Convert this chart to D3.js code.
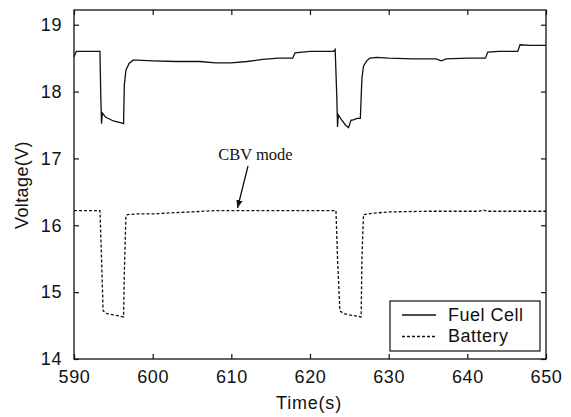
<!DOCTYPE html>
<html><head><meta charset="utf-8">
<script src="https://cdn.jsdelivr.net/npm/d3@7"></script>
<style>body{margin:0;background:#fff;}svg{display:block;}</style>
</head><body>
<svg id="c" width="571" height="417"></svg>
<script>
const xTicks = [590, 600, 610, 620, 630, 640, 650];
const yTicks = [14, 15, 16, 17, 18, 19];
const seriesNames = ["Fuel Cell", "Battery"];
const fcTime = [590, 590.3, 593.3, 593.4, 593.5, 593.6, 594, 595, 596, 596.3, 596.4, 596.6, 597, 597.5, 598, 600, 603, 606, 608, 610, 612, 614, 616, 617.8, 618.1, 620, 623, 623.2, 623.4, 623.5, 623.6, 624, 624.5, 624.9, 625.2, 625.6, 626, 626.4, 626.6, 626.8, 627.2, 627.6, 628.5, 630, 633, 636, 636.7, 637.3, 640, 642.3, 642.6, 644, 646.4, 646.7, 648, 650];
const fcVolt = [18.52, 18.6, 18.6, 17.95, 17.52, 17.68, 17.62, 17.56, 17.53, 17.52, 18.1, 18.32, 18.42, 18.47, 18.47, 18.46, 18.45, 18.45, 18.43, 18.43, 18.45, 18.48, 18.5, 18.5, 18.58, 18.6, 18.6, 18.63, 17.95, 17.47, 17.65, 17.58, 17.5, 17.46, 17.57, 17.58, 17.6, 17.6, 18.2, 18.38, 18.46, 18.5, 18.51, 18.5, 18.49, 18.49, 18.46, 18.49, 18.5, 18.5, 18.59, 18.6, 18.6, 18.7, 18.69, 18.69];
const batTime = [590, 593.3, 593.5, 593.7, 594.2, 595, 596.3, 596.4, 596.6, 596.8, 598, 600, 603, 605, 608, 623.3, 623.5, 623.8, 624.3, 625, 626.5, 626.6, 626.8, 628, 630, 635, 641.5, 642, 642.6, 650];
const batVolt = [16.22, 16.22, 15.5, 14.72, 14.68, 14.66, 14.63, 15.3, 16.14, 16.16, 16.17, 16.17, 16.19, 16.2, 16.22, 16.22, 15.5, 14.72, 14.68, 14.66, 14.63, 15.5, 16.16, 16.18, 16.2, 16.21, 16.21, 16.23, 16.21, 16.21];
const annotation = "CBV mode";

const svg = d3.select("#c");
const L = 74, R = 546, T = 10, B = 359;
const x = d3.scaleLinear().domain([590, 650]).range([L, R]);
const y = d3.scaleLinear().domain([14, 19.22]).range([B, T]);
const font = "'Liberation Sans', Arial, sans-serif";

// frame
svg.append("rect").attr("x", L).attr("y", T).attr("width", R - L).attr("height", B - T)
  .attr("fill", "none").attr("stroke", "#111").attr("stroke-width", 1.3);

function styleAxis(g) {
  g.select(".domain").remove();
  g.selectAll(".tick line").attr("stroke", "#111").attr("stroke-width", 1.2);
  g.selectAll(".tick text").attr("font-family", font).attr("font-size", 18)
    .attr("letter-spacing", 0.6).attr("fill", "#111");
}
svg.append("g").attr("transform", `translate(0,${B})`)
  .call(d3.axisBottom(x).tickValues(xTicks).tickSizeInner(-5).tickPadding(11).tickFormat(d3.format("d")))
  .call(styleAxis);
svg.append("g").attr("transform", `translate(0,${T})`)
  .call(d3.axisTop(x).tickValues(xTicks).tickSizeInner(-5).tickFormat(""))
  .call(styleAxis);
svg.append("g").attr("transform", `translate(${L},0)`)
  .call(d3.axisLeft(y).tickValues(yTicks).tickSizeInner(-5).tickPadding(12).tickFormat(d3.format("d")))
  .call(styleAxis);
svg.append("g").attr("transform", `translate(${R},0)`)
  .call(d3.axisRight(y).tickValues(yTicks).tickSizeInner(-5).tickFormat(""))
  .call(styleAxis);

const line = d3.line().x(d => x(d[0])).y(d => y(d[1]));
svg.append("path").datum(d3.zip(fcTime, fcVolt)).attr("d", line)
  .attr("fill", "none").attr("stroke", "#111").attr("stroke-width", 1.3);
svg.append("path").datum(d3.zip(batTime, batVolt)).attr("d", line)
  .attr("fill", "none").attr("stroke", "#111").attr("stroke-width", 1.3).attr("stroke-dasharray", "3,2");

// axis labels
svg.append("text").attr("x", 309).attr("y", 409).attr("text-anchor", "middle")
  .attr("font-family", font).attr("font-size", 18).attr("letter-spacing", 0.8).attr("fill", "#111").text("Time(s)");
svg.append("text").attr("transform", "translate(28,185) rotate(-90)").attr("text-anchor", "middle")
  .attr("font-family", font).attr("font-size", 18).attr("letter-spacing", 0.4).attr("fill", "#111").text("Voltage(V)");

// annotation
svg.append("defs").append("marker").attr("id", "ah").attr("viewBox", "0 0 10 10")
  .attr("refX", 10).attr("refY", 5).attr("markerWidth", 8).attr("markerHeight", 8)
  .attr("markerUnits", "userSpaceOnUse").attr("orient", "auto")
  .append("path").attr("d", "M0,1 L10,5 L0,9 Z").attr("fill", "#111");
svg.append("text").attr("x", 255.5).attr("y", 160).attr("text-anchor", "middle")
  .attr("font-family", "'Liberation Serif', 'Times New Roman', serif").attr("font-size", 16.5)
  .attr("fill", "#111").text(annotation);
svg.append("line").attr("x1", 248).attr("y1", 166).attr("x2", 237.5).attr("y2", 208)
  .attr("stroke", "#111").attr("stroke-width", 1.3).attr("marker-end", "url(#ah)");

// legend
const lg = svg.append("g");
lg.append("rect").attr("x", 390).attr("y", 301).attr("width", 150).attr("height", 50)
  .attr("fill", "#fff").attr("stroke", "#111").attr("stroke-width", 1.2);
seriesNames.forEach((n, i) => {
  const yy = 315 + i * 21.5;
  lg.append("line").attr("x1", 402).attr("x2", 436).attr("y1", yy).attr("y2", yy)
    .attr("stroke", "#111").attr("stroke-width", 1.3).attr("stroke-dasharray", i ? "3,2" : null);
  lg.append("text").attr("x", 448).attr("y", yy + 5.5).attr("font-family", font).attr("font-size", 18)
    .attr("letter-spacing", 0.5).attr("fill", "#111").text(n);
});
</script>
</body></html>
